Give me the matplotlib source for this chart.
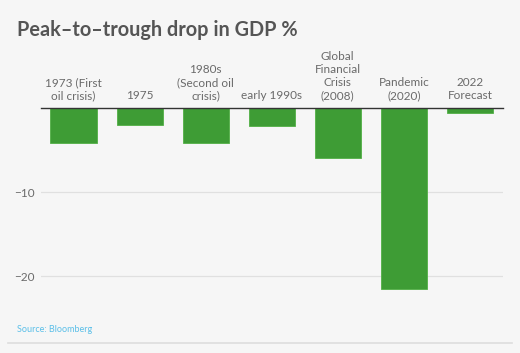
import matplotlib.pyplot as plt

# data
categories = ['1973 (First\noil crisis)', '1975', '1980s\n(Second oil\ncrisis)', 'early 1990s',
              'Global\nFinancial\nCrisis\n(2008)', 'Pandemic\n(2020)', '2022\nForecast']
drops = [-4.1, -2.0, -4.1, -2.1, -5.9, -21.5, -0.5]
yticks = [-10, -20]
ytick_labels = ['\u221210', '\u221220']

bg = '#f6f6f6'
green = '#3e9c35'
grey = '#6a6a6a'

plt.rcParams['font.family'] = ['Lato', 'DejaVu Sans']

fig = plt.figure(figsize=(5.2, 3.53), dpi=100, facecolor=bg)
ax = fig.add_axes([0.078, 0.146, 0.889, 0.547])
ax.set_facecolor(bg)

x = range(len(categories))
ax.bar(x, drops, width=0.7, color=green, edgecolor='#52b046', linewidth=0.6, zorder=3)

ax.set_xlim(-0.5, len(categories) - 0.5)
ax.set_ylim(-23, 0)
ax.set_yticks(yticks)
ax.set_yticklabels(ytick_labels, fontsize=8.5, color=grey)
ax.yaxis.grid(True, color='#e0e0e0', linewidth=0.9, zorder=0)
ax.tick_params(axis='y', length=0, pad=4)

ax.xaxis.tick_top()
ax.set_xticks(list(x))
ax.set_xticklabels(categories, fontsize=8.5, color=grey, linespacing=1.22)
ax.tick_params(axis='x', length=0, pad=5)

for s in ['left', 'right', 'bottom']:
    ax.spines[s].set_visible(False)
ax.spines['top'].set_color('#333333')
ax.spines['top'].set_linewidth(1.0)
ax.spines['top'].set_zorder(4)

fig.text(17 / 520, 1 - 30 / 353, 'Peak\u2013to\u2013trough drop in GDP %', fontsize=14.3,
         fontweight='bold', color='#555555', va='center', ha='left')
fig.text(17 / 520, 1 - 330 / 353, 'Source: Bloomberg', fontsize=6.5, color='#5bbfe8',
         va='center', ha='left')
fig.add_artist(plt.Line2D([8 / 520, 512 / 520], [1 - 343 / 353] * 2, color='#dddddd', linewidth=1.2))

fig.savefig('out.png', dpi=100, facecolor=bg)
